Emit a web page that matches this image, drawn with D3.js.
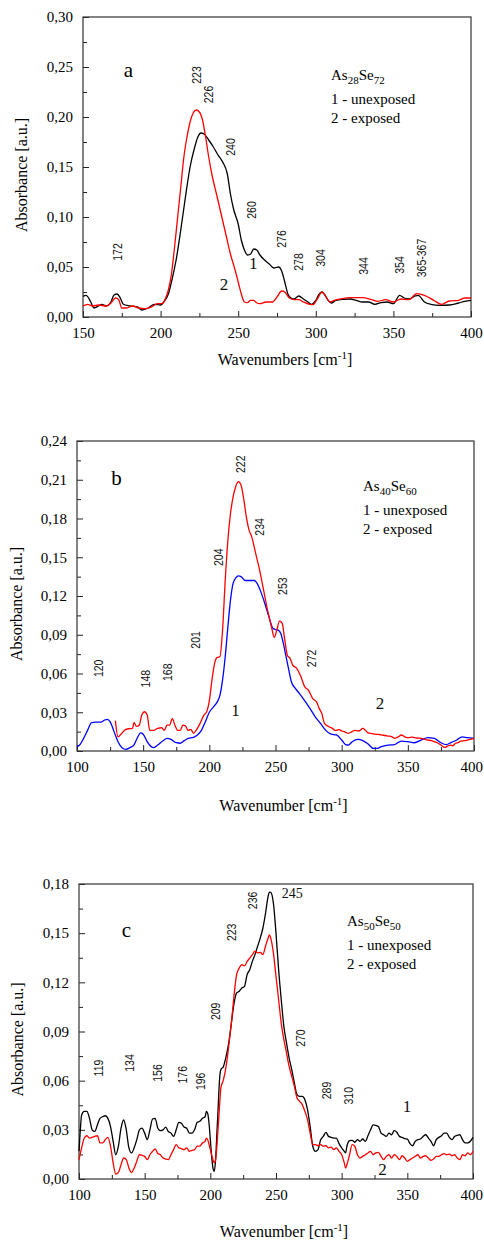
<!DOCTYPE html>
<html>
<head>
<meta charset="utf-8">
<script src="https://cdn.jsdelivr.net/npm/d3@7"></script>
<style>
  body { margin: 0; background: #fff; }
  svg { display: block; }
</style>
</head>
<body>
<svg id="chart" width="484" height="1240"></svg>
<script>
// ---- panel a: As28Se72 ----
const aUnexposed = [[150,0.0207],[152,0.0217],[155,0.015],[157,0.009],[160,0.011],[162,0.0127],[165,0.011],[168,0.015],[170,0.022],[172,0.023],[174,0.019],[176,0.0127],[180,0.011],[185,0.010],[188,0.007],[192,0.009],[196,0.0127],[200,0.012],[202,0.015],[205,0.023],[207,0.035],[210,0.057],[213,0.087],[216,0.12],[219,0.15],[222,0.17],[224,0.18],[226,0.184],[228,0.183],[231,0.177],[234,0.17],[237,0.162],[240,0.155],[243,0.143],[245,0.123],[247,0.108],[250,0.093],[252,0.077],[254,0.067],[256,0.062],[258,0.063],[260,0.068],[262,0.067],[264,0.062],[267,0.057],[270,0.053],[273,0.049],[276,0.050],[278,0.046],[280,0.035],[282,0.023],[284,0.019],[286,0.018],[289,0.021],[292,0.018],[295,0.015],[297,0.0127],[300,0.0167],[302,0.0227],[304,0.025],[306,0.0217],[308,0.0167],[310,0.014],[313,0.0167],[318,0.0177],[322,0.018],[326,0.0167],[330,0.015],[334,0.015],[338,0.0127],[342,0.0143],[346,0.015],[350,0.0133],[354,0.0217],[357,0.019],[360,0.018],[364,0.021],[366,0.0217],[370,0.015],[374,0.0127],[380,0.0117],[386,0.012],[392,0.014],[396,0.0157],[400,0.0167]];
const aExposed = [[150,0.011],[153,0.0127],[156,0.011],[160,0.012],[165,0.011],[168,0.014],[171,0.019],[173,0.0173],[175,0.009],[178,0.009],[182,0.011],[186,0.009],[190,0.0083],[194,0.010],[198,0.0133],[201,0.0133],[203,0.018],[205,0.027],[207,0.043],[209,0.070],[211,0.10],[213,0.13],[215,0.16],[217,0.18],[219,0.195],[221,0.204],[223,0.207],[225,0.205],[227,0.197],[229,0.18],[231,0.16],[233,0.143],[236,0.123],[239,0.103],[242,0.083],[245,0.063],[248,0.047],[250,0.035],[252,0.023],[254,0.015],[256,0.0143],[258,0.0167],[260,0.0167],[262,0.014],[264,0.0133],[268,0.015],[272,0.015],[275,0.020],[278,0.026],[280,0.025],[283,0.019],[286,0.0173],[289,0.0173],[292,0.015],[296,0.0127],[298,0.0123],[301,0.018],[304,0.025],[306,0.0217],[309,0.015],[312,0.0167],[316,0.018],[322,0.0193],[330,0.0193],[336,0.0173],[340,0.0157],[345,0.0173],[350,0.015],[355,0.018],[360,0.0173],[365,0.0233],[370,0.0217],[376,0.0167],[381,0.0127],[386,0.016],[392,0.0167],[396,0.019],[400,0.019]];
// peak labels: [text, wavenumber, absorbance] (label centre)
const aPeaks = [["172",172.4,0.065],["223",223.3,0.242],["226",231.2,0.2225],["240",245.2,0.170],["260",258.9,0.107],["276",278,0.078],["278",289,0.055],["304",302.9,0.059],["344",330.6,0.051],["354",354.3,0.052],["365-367",368.4,0.059]];
const aCurveTags = [["1",259.7,0.054],["2",240.9,0.033]];
const aLetter = ["a",179.2,0.247];
const aSample = ["As", "28", "Se", "72"];

// ---- panel b: As40Se60 ----
const bUnexposed = [[100,0.0034],[102,0.0046],[105,0.0098],[108,0.016],[111,0.022],[114,0.0224],[118,0.0224],[121,0.024],[123,0.0245],[125,0.0227],[128,0.015],[131,0.0072],[134,0.0026],[137,0.0013],[140,0.0026],[143,0.0046],[146,0.011],[148,0.014],[150,0.013],[153,0.0072],[156,0.0034],[158,0.0026],[161,0.0046],[165,0.008],[168,0.0098],[171,0.009],[175,0.0064],[178,0.006],[181,0.008],[184,0.0098],[188,0.0106],[191,0.0124],[194,0.016],[197,0.0227],[200,0.030],[203,0.034],[206,0.038],[208,0.043],[210,0.055],[212,0.073],[214,0.096],[216,0.117],[218,0.13],[220,0.134],[222,0.1356],[224,0.135],[227,0.132],[230,0.132],[234,0.132],[236,0.13],[239,0.123],[242,0.114],[245,0.104],[248,0.095],[250,0.094],[252,0.0936],[254,0.091],[256,0.083],[258,0.073],[260,0.063],[262,0.0536],[265,0.0485],[268,0.0446],[272,0.039],[276,0.033],[280,0.0265],[284,0.0214],[288,0.016],[292,0.013],[296,0.0124],[300,0.0085],[303,0.005],[305,0.0046],[308,0.0072],[312,0.009],[316,0.008],[320,0.0054],[324,0.002],[327,0.002],[330,0.0034],[335,0.0046],[340,0.005],[345,0.0077],[350,0.0072],[355,0.0064],[360,0.0085],[365,0.0103],[370,0.0098],[375,0.0064],[379,0.005],[383,0.0067],[387,0.0085],[391,0.011],[395,0.0103],[400,0.0098]];
const bExposed = [[129,0.0235],[131,0.011],[134,0.014],[137,0.0168],[140,0.0173],[142,0.0175],[143,0.022],[145,0.019],[147,0.020],[149,0.028],[151,0.0304],[153,0.028],[155,0.016],[158,0.016],[161,0.0175],[164,0.018],[166,0.016],[168,0.020],[170,0.020],[172,0.025],[174,0.020],[176,0.016],[178,0.016],[180,0.020],[182,0.0193],[184,0.016],[186,0.0168],[188,0.0137],[190,0.016],[193,0.0214],[196,0.028],[198,0.0304],[200,0.039],[202,0.055],[204,0.068],[206,0.0725],[208,0.073],[210,0.0936],[212,0.132],[214,0.163],[216,0.184],[218,0.197],[220,0.205],[222,0.2085],[224,0.2057],[226,0.195],[228,0.181],[230,0.171],[232,0.166],[235,0.153],[238,0.14],[241,0.1245],[244,0.109],[247,0.096],[249,0.088],[251,0.0936],[253,0.1005],[255,0.099],[257,0.086],[259,0.074],[261,0.0717],[263,0.0665],[266,0.064],[269,0.058],[272,0.0498],[275,0.047],[278,0.0407],[281,0.038],[283,0.033],[285,0.029],[287,0.0214],[290,0.019],[293,0.0175],[295,0.016],[298,0.0165],[300,0.0155],[303,0.0145],[305,0.0137],[308,0.0150],[310,0.016],[313,0.0155],[316,0.0175],[318,0.0160],[320,0.014],[323,0.0135],[325,0.013],[328,0.0128],[330,0.0124],[333,0.0120],[335,0.0116],[338,0.0110],[340,0.0098],[343,0.0110],[345,0.0124],[348,0.0108],[350,0.0103],[353,0.0108],[355,0.0103],[358,0.0100],[360,0.0098],[363,0.0090],[365,0.0085],[368,0.0080],[370,0.0072],[373,0.0060],[375,0.0046],[378,0.0028],[380,0.0038],[382,0.0046],[384,0.0040],[386,0.006],[388,0.0065],[390,0.0077],[393,0.0080],[395,0.0085],[398,0.0092],[400,0.0098]];
const bPeaks = [["120",116.6,0.064],["148",151.7,0.056],["168",168.8,0.061],["201",189.5,0.086],["204",207.2,0.150],["222",223.6,0.222],["234",237.9,0.1735],["253",255.3,0.1276],["272",277.5,0.0717]];
const bCurveTags = [["1",219.8,0.031],["2",328.9,0.037]];
const bLetter = ["b",129.8,0.2117];
const bSample = ["As", "40", "Se", "60"];

// ---- panel c: As50Se50 ----
const cUnexposed = [[100,0.0169],[101,0.030],[102,0.039],[104,0.0413],[106,0.0413],[108,0.037],[110,0.030],[112,0.029],[114,0.033],[116,0.037],[118,0.038],[120,0.0386],[122,0.037],[124,0.032],[126,0.023],[128,0.0148],[130,0.020],[132,0.031],[134,0.036],[136,0.030],[138,0.019],[140,0.0159],[142,0.019],[144,0.024],[146,0.030],[148,0.031],[150,0.028],[152,0.024],[154,0.030],[156,0.0366],[158,0.037],[160,0.031],[162,0.0295],[164,0.030],[166,0.0317],[168,0.029],[170,0.028],[172,0.026],[174,0.030],[176,0.0346],[178,0.034],[180,0.0317],[182,0.031],[184,0.028],[186,0.028],[188,0.030],[190,0.0346],[192,0.0352],[194,0.037],[196,0.038],[197,0.0413],[198,0.040],[199,0.034],[200,0.024],[201,0.0138],[202,0.0067],[203,0.0047],[204,0.0118],[205,0.028],[206,0.0443],[207,0.0606],[208,0.0667],[210,0.0687],[212,0.0748],[214,0.083],[216,0.095],[218,0.107],[220,0.1135],[222,0.1145],[224,0.1165],[226,0.1175],[228,0.1247],[230,0.1277],[232,0.1328],[234,0.1369],[236,0.142],[238,0.147],[240,0.153],[242,0.162],[244,0.1725],[245,0.175],[246,0.1749],[248,0.1684],[250,0.150],[252,0.1277],[254,0.1094],[256,0.093],[258,0.083],[260,0.0738],[262,0.0667],[264,0.0586],[266,0.0515],[268,0.0504],[270,0.0504],[272,0.0484],[274,0.0423],[276,0.032],[278,0.020],[280,0.0169],[282,0.0179],[284,0.024],[286,0.026],[288,0.0285],[290,0.026],[292,0.0254],[294,0.025],[296,0.025],[298,0.0216],[300,0.019],[302,0.0169],[303,0.0159],[304,0.020],[306,0.0234],[308,0.0236],[310,0.0224],[312,0.024],[314,0.023],[316,0.0244],[318,0.023],[320,0.0264],[322,0.030],[324,0.033],[326,0.0327],[328,0.032],[330,0.028],[332,0.027],[334,0.026],[336,0.028],[338,0.027],[340,0.0295],[342,0.0285],[344,0.026],[346,0.0254],[348,0.0246],[350,0.0244],[352,0.0216],[354,0.0203],[356,0.023],[358,0.024],[360,0.0244],[362,0.026],[364,0.027],[366,0.025],[368,0.023],[370,0.0203],[372,0.024],[374,0.0254],[376,0.0264],[378,0.028],[380,0.028],[382,0.0254],[384,0.024],[386,0.026],[388,0.0266],[390,0.027],[392,0.024],[394,0.022],[396,0.022],[398,0.023],[400,0.0254]];
const cExposed = [[100,0.0118],[102,0.019],[104,0.025],[106,0.0264],[108,0.025],[110,0.0254],[112,0.026],[114,0.0264],[116,0.022],[118,0.022],[120,0.024],[122,0.0254],[124,0.020],[126,0.0098],[128,0.003],[130,0.004],[132,0.0087],[134,0.0128],[136,0.0118],[138,0.0067],[140,0.004],[142,0.0067],[144,0.0108],[146,0.0148],[148,0.0144],[150,0.0138],[152,0.0118],[154,0.0148],[156,0.0169],[158,0.0183],[160,0.0155],[162,0.0148],[164,0.0128],[166,0.0122],[168,0.0118],[170,0.0148],[172,0.0179],[174,0.021],[176,0.019],[178,0.0185],[180,0.0179],[182,0.019],[184,0.0169],[186,0.0175],[188,0.0179],[190,0.020],[192,0.020],[194,0.022],[196,0.023],[197,0.025],[198,0.024],[200,0.0179],[202,0.0118],[203,0.0098],[204,0.0118],[205,0.020],[206,0.032],[207,0.0443],[208,0.0555],[210,0.0606],[212,0.0687],[214,0.081],[216,0.095],[218,0.1115],[220,0.1247],[222,0.1287],[224,0.1308],[226,0.130],[228,0.1328],[230,0.1348],[232,0.1369],[234,0.139],[236,0.138],[238,0.1383],[240,0.1369],[242,0.142],[244,0.147],[245,0.149],[246,0.147],[248,0.138],[250,0.1237],[252,0.1094],[254,0.095],[256,0.085],[258,0.0769],[260,0.0687],[262,0.0626],[264,0.0565],[266,0.0494],[268,0.0474],[270,0.0454],[272,0.0413],[274,0.0362],[276,0.028],[278,0.021],[280,0.021],[282,0.0203],[284,0.021],[286,0.020],[288,0.0203],[290,0.019],[292,0.0195],[294,0.0179],[296,0.019],[298,0.0169],[300,0.0148],[302,0.0098],[303,0.0067],[304,0.0087],[306,0.0148],[308,0.021],[310,0.020],[312,0.0148],[314,0.0128],[316,0.0138],[318,0.0148],[320,0.0159],[322,0.0169],[324,0.0148],[326,0.0159],[328,0.0163],[330,0.0138],[332,0.0118],[334,0.0138],[336,0.0148],[338,0.0128],[340,0.0148],[342,0.0138],[344,0.0118],[346,0.0142],[348,0.0128],[350,0.0108],[352,0.0118],[354,0.0128],[356,0.0138],[358,0.0148],[360,0.0128],[362,0.0138],[364,0.0142],[366,0.0128],[368,0.0114],[370,0.0122],[372,0.0138],[374,0.0138],[376,0.0148],[378,0.0155],[380,0.0148],[382,0.0152],[384,0.0142],[386,0.0148],[388,0.0128],[390,0.0118],[392,0.0148],[394,0.0142],[396,0.0159],[398,0.0148],[400,0.0169]];
const cPeaks = [["119",115,0.0677],["134",138.6,0.0708],["156",160.2,0.0647],["176",179.2,0.0636],["196",192.7,0.0596],["209",204.1,0.1023],["223",216,0.1505],["236",232.5,0.170],["270",268.6,0.086],["289",288.8,0.054],["310",305.4,0.0508]];
const cFlatPeaks = [["245",262.4,0.1739]];
const cCurveTags = [["1",349.8,0.0443],["2",331,0.0057]];
const cLetter = ["c",136.1,0.152];
const cSample = ["As", "50", "Se", "50"];

const legendLines = ["1 - unexposed", "2 - exposed"];

// layout of the three panels
const panels = [
  { left: 83, right: 471, top: 17, bottom: 317, xDomain: [150, 400], yDomain: [0, 0.30], yStep: 0.05,
    series: [[aUnexposed, "#000"], [aExposed, "#ff0000"]], peaks: aPeaks, flat: [], tags: aCurveTags, letter: aLetter,
    sample: aSample, legend: [248, 63], xTitle: "Wavenumbers", xTitleY: 365, yTitleX: 27 },
  { left: 77, right: 474, top: 441, bottom: 751, xDomain: [100, 400], yDomain: [0, 0.24], yStep: 0.03,
    series: [[bUnexposed, "#0000ff"], [bExposed, "#ff0000"]], peaks: bPeaks, flat: [], tags: bCurveTags, letter: bLetter,
    sample: bSample, legend: [286, 50], xTitle: "Wavenumber", xTitleY: 811, yTitleX: 22 },
  { left: 79, right: 473, top: 884, bottom: 1179, xDomain: [100, 400], yDomain: [0, 0.18], yStep: 0.03,
    series: [[cUnexposed, "#000"], [cExposed, "#ff0000"]], peaks: cPeaks, flat: cFlatPeaks, tags: cCurveTags, letter: cLetter,
    sample: cSample, legend: [268, 42], xTitle: "Wavenumber", xTitleY: 1237, yTitleX: 23 }
];

const serif = "'Liberation Serif', 'Times New Roman', serif";
const sans = "'Liberation Sans', Arial, sans-serif";
const svg = d3.select("#chart");
const W = +svg.attr("width");
const comma = d3.format(".2f");

const drawPanel = (p) => {
  const g = svg.append("g");
  const x = d3.scaleLinear().domain(p.xDomain).range([p.left, p.right]);
  const y = d3.scaleLinear().domain(p.yDomain).range([p.bottom, p.top]);

  const xMajor = d3.range(p.xDomain[0], p.xDomain[1] + 1, 50);
  const xMinor = d3.range(p.xDomain[0] + 25, p.xDomain[1], 50);
  const nY = Math.round(p.yDomain[1] / p.yStep);
  const yMajor = d3.range(0, nY + 1).map((i) => i * p.yStep);
  const yMinor = d3.range(0, nY).map((i) => (i + 0.5) * p.yStep);

  // minor ticks
  g.append("g").attr("transform", `translate(0,${p.bottom})`)
    .call(d3.axisBottom(x).tickValues(xMinor).tickSize(-4).tickFormat(""));
  g.append("g").attr("transform", `translate(${p.left},0)`)
    .call(d3.axisLeft(y).tickValues(yMinor).tickSize(-4).tickFormat(""));

  // major ticks with labels
  g.append("g").attr("transform", `translate(0,${p.bottom})`)
    .call(d3.axisBottom(x).tickValues(xMajor).tickSizeInner(-6).tickSizeOuter(0).tickPadding(10));
  g.append("g").attr("transform", `translate(${p.left},0)`)
    .call(d3.axisLeft(y).tickValues(yMajor).tickSizeInner(-6).tickSizeOuter(0).tickPadding(10)
      .tickFormat((d) => comma(d).replace(".", ",")));

  g.selectAll(".tick line").attr("stroke", "#222");
  g.selectAll(".domain").attr("stroke", "none");
  g.selectAll(".tick text").attr("font-family", serif).attr("font-size", 15).attr("fill", "#000");

  // keep the last x label inside the page
  g.selectAll(".tick text").each(function () {
    const b = this.getBBox();
    const tx = this.parentNode.transform.baseVal.consolidate();
    const ox = tx ? tx.matrix.e : 0;
    const over = ox + b.x + b.width - (W - 1);
    if (over > 0 && ox > p.left + 10) d3.select(this).attr("x", -over);
  });

  // frame
  g.append("rect")
    .attr("x", p.left).attr("y", p.top)
    .attr("width", p.right - p.left).attr("height", p.bottom - p.top)
    .attr("fill", "none").attr("stroke", "#333").attr("stroke-width", 1.2);

  // spectra
  const line = d3.line().x((d) => x(d[0])).y((d) => y(d[1])).curve(d3.curveMonotoneX);
  p.series.forEach(([data, color]) => {
    g.append("path").datum(data)
      .attr("fill", "none").attr("stroke", color).attr("stroke-width", 1.3)
      .attr("d", line);
  });

  // peak positions (rotated)
  g.selectAll(".peak").data(p.peaks).enter().append("text")
    .attr("transform", (d) => `translate(${x(d[1])},${y(d[2])}) rotate(-90) scale(0.84,1)`)
    .attr("text-anchor", "middle").attr("dominant-baseline", "central")
    .attr("font-family", sans).attr("font-size", 12.5).attr("fill", "#111")
    .text((d) => d[0]);
  g.selectAll(".flat").data(p.flat).enter().append("text")
    .attr("x", (d) => x(d[1])).attr("y", (d) => y(d[2]))
    .attr("text-anchor", "middle").attr("dominant-baseline", "central")
    .attr("font-family", serif).attr("font-size", 14).attr("fill", "#111")
    .text((d) => d[0]);

  // curve numbers
  g.selectAll(".tag").data(p.tags).enter().append("text")
    .attr("x", (d) => x(d[1])).attr("y", (d) => y(d[2]))
    .attr("text-anchor", "middle").attr("dominant-baseline", "central")
    .attr("font-family", serif).attr("font-size", 17).attr("fill", "#111")
    .text((d) => d[0]);

  // panel letter
  g.append("text")
    .attr("x", x(p.letter[1])).attr("y", y(p.letter[2]))
    .attr("text-anchor", "middle").attr("dominant-baseline", "central")
    .attr("font-family", serif).attr("font-size", 21).attr("fill", "#000")
    .text(p.letter[0]);

  // legend
  const lx = p.left + p.legend[0], ly = p.top + p.legend[1];
  const title = g.append("text").attr("x", lx).attr("y", ly)
    .attr("font-family", serif).attr("font-size", 15).attr("fill", "#000");
  title.append("tspan").text(p.sample[0]);
  title.append("tspan").attr("dy", 4).attr("font-size", 11).text(p.sample[1]);
  title.append("tspan").attr("dy", -4).text(p.sample[2]);
  title.append("tspan").attr("dy", 4).attr("font-size", 11).text(p.sample[3]);
  legendLines.forEach((t, i) => {
    g.append("text").attr("x", lx).attr("y", ly + 24 + i * 19)
      .attr("font-family", serif).attr("font-size", 15).attr("fill", "#000")
      .text(t);
  });

  // axis titles
  const xt = g.append("text")
    .attr("x", (p.left + p.right) / 2 + 8).attr("y", p.xTitleY)
    .attr("text-anchor", "middle")
    .attr("font-family", serif).attr("font-size", 16).attr("fill", "#000");
  xt.append("tspan").text(p.xTitle + " [cm");
  xt.append("tspan").attr("dy", -6).attr("font-size", 11).text("-1");
  xt.append("tspan").attr("dy", 6).text("]");

  g.append("text")
    .attr("transform", `translate(${p.yTitleX},${(p.top + p.bottom) / 2 + 8}) rotate(-90)`)
    .attr("text-anchor", "middle")
    .attr("font-family", serif).attr("font-size", 16).attr("fill", "#000")
    .text("Absorbance [a.u.]");
};

panels.forEach(drawPanel);
</script>
</body>
</html>
